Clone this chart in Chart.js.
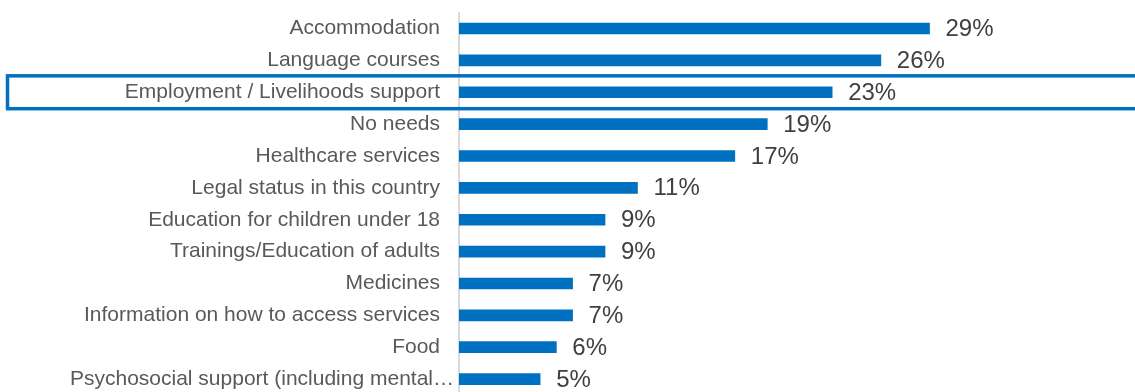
<!DOCTYPE html>
<html>
<head>
<meta charset="utf-8">
<script src="https://cdn.jsdelivr.net/npm/chart.js@4"></script>
<style>
  html, body { margin: 0; padding: 0; background: #fff; overflow: hidden; }
  #wrap { position: relative; width: 1135px; height: 400px; }
</style>
</head>
<body>
<div id="wrap"><canvas id="needs"></canvas></div>
<script>
/* Needs ranking — horizontal bars, one row highlighted */

const categories = [
  'Accommodation',
  'Language courses',
  'Employment / Livelihoods support',
  'No needs',
  'Healthcare services',
  'Legal status in this country',
  'Education for children under 18',
  'Trainings/Education of adults',
  'Medicines',
  'Information on how to access services',
  'Food',
  'Psychosocial support (including mental\u2026',
];
const shares = [29, 26, 23, 19, 17, 11, 9, 9, 7, 7, 6, 5];
const highlightRow = 2;
const clippedRow = 11;   // truncated label runs up to the axis

const BLUE = '#0070c0';
const LABEL_GREY = '#595959';
const FONT = "'Liberation Sans', Arial, sans-serif";

// value labels to the right of each bar
const valueLabels = {
  id: 'valueLabels',
  afterDatasetsDraw(chart) {
    const { ctx } = chart;
    const meta = chart.getDatasetMeta(0);
    ctx.save();
    ctx.font = '24px ' + FONT;
    ctx.fillStyle = '#404040';
    ctx.textAlign = 'left';
    ctx.textBaseline = 'middle';
    meta.data.forEach((bar, i) => {
      ctx.fillText(shares[i] + '%', bar.x + 16, bar.y + 1);
    });
    ctx.restore();
  }
};

// the truncated label sits closer to the axis than the others
const clippedLabel = {
  id: 'clippedLabel',
  afterDraw(chart) {
    const { ctx } = chart;
    const y = chart.scales.y;
    ctx.save();
    ctx.font = '21px ' + FONT;
    ctx.fillStyle = LABEL_GREY;
    ctx.textAlign = 'right';
    ctx.textBaseline = 'middle';
    ctx.fillText(categories[clippedRow], chart.chartArea.left - 5, y.getPixelForTick(clippedRow));
    ctx.restore();
  }
};

// outline box around the highlighted category row
const rowBox = {
  id: 'rowBox',
  afterDraw(chart) {
    const { ctx } = chart;
    const y = chart.scales.y;
    const half = (y.getPixelForTick(1) - y.getPixelForTick(0)) / 2;
    const cy = y.getPixelForTick(highlightRow);
    ctx.save();
    ctx.strokeStyle = BLUE;
    ctx.lineWidth = 3.5;
    ctx.strokeRect(7.5, cy - half - 0.5, chart.width + 20, half * 2 + 1);
    ctx.restore();
  }
};

new Chart(document.getElementById('needs'), {
  type: 'bar',
  data: {
    labels: categories,
    datasets: [{
      data: shares,
      backgroundColor: BLUE,
      barThickness: 11,
    }]
  },
  options: {
    indexAxis: 'y',
    responsive: true, maintainAspectRatio: false,
    animation: false,
    layout: { padding: { top: 12.6, bottom: 5, left: 0, right: 27 } },
    scales: {
      x: { display: false, min: 0, max: 40 },
      y: {
        // fixed label column; no extra room reserved above/below for labels
        afterFit: s => { s.width = 459; s.paddingTop = 0; s.paddingBottom = 0; },
        grid: { display: false, drawTicks: false },
        border: { display: true, color: '#d9d9d9', width: 2 },
        ticks: {
          padding: 19,
          color: c => c.index === clippedRow ? 'rgba(0,0,0,0)' : LABEL_GREY,
          font: { size: 21, family: FONT }
        }
      }
    },
    plugins: { legend: { display: false }, tooltip: { enabled: false } }
  },
  plugins: [valueLabels, clippedLabel, rowBox]
});
</script>
</body>
</html>
